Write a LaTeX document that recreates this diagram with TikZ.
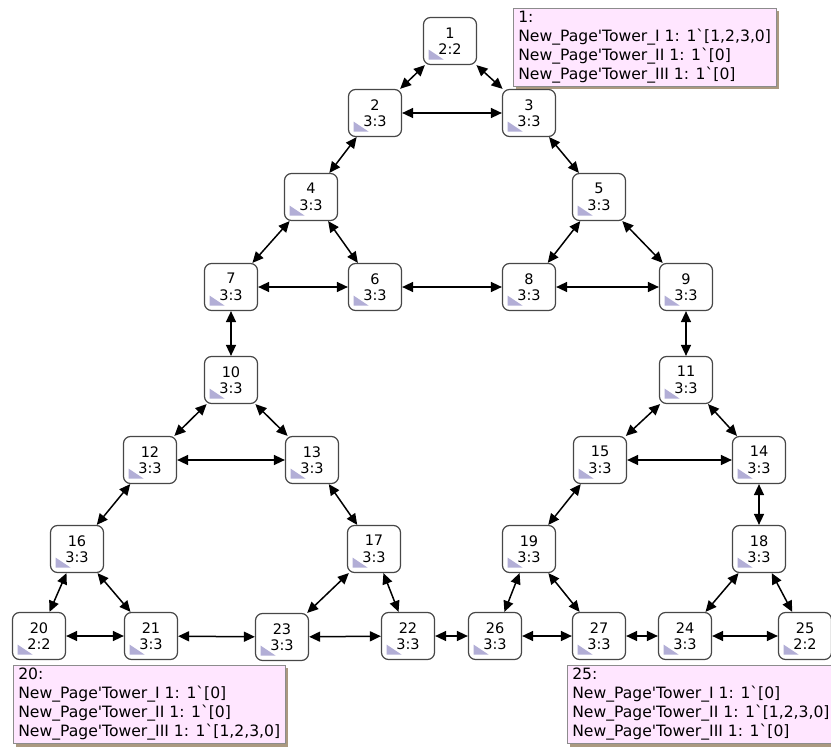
\documentclass[tikz,border=0pt]{standalone}
\usepackage{fontspec}
\setmainfont{DejaVu Sans}
\usetikzlibrary{arrows.meta,shadows}

\definecolor{corner}{RGB}{178,174,214}
\definecolor{infofill}{RGB}{255,230,255}
\definecolor{infoshade}{RGB}{150,128,96}

% straight quote and grave accent, as typed in the markings
\newcommand{\sq}{\textquotesingle}
\newcommand{\gr}{\textasciigrave}

\begin{document}
\begin{tikzpicture}[
    x=1pt, y=-1pt,
    state/.style={rectangle, draw=black!72, line width=1.2pt, rounded corners=7pt,
        fill=white, minimum width=53pt, minimum height=47pt, inner sep=0pt,
        align=center, font=\fontsize{14.5}{16.5}\selectfont,
        path picture={\fill[corner, sharp corners] ([xshift=5pt,yshift=15pt]path picture bounding box.south west)
            -- ([xshift=5pt,yshift=5pt]path picture bounding box.south west)
            -- ([xshift=20pt,yshift=5pt]path picture bounding box.south west) -- cycle;}},
    infobox/.style={rectangle, draw=black!45, line width=0.6pt, fill=infofill, anchor=north west,
        align=left, inner xsep=5pt, inner ysep=3pt, font=\fontsize{15.6}{19}\selectfont,
        drop shadow={shadow xshift=3pt, shadow yshift=-3pt, fill=infoshade, opacity=0.8}},
    arrow/.style={{Triangle[length=11pt,width=10pt]}-{Triangle[length=11pt,width=10pt]}, line width=1.5pt, black}
]
\useasboundingbox (0,0) rectangle (831,747);

%% ---- Top triangle ----
\node[state] (n1) at (450,41) {1\\2:2};
\node[state] (n2) at (375,113) {2\\3:3};
\node[state] (n3) at (529,113) {3\\3:3};
\node[state] (n4) at (311,197) {4\\3:3};
\node[state] (n5) at (599,197) {5\\3:3};
\node[state] (n7) at (231,287) {7\\3:3};
\node[state] (n6) at (375,287) {6\\3:3};
\node[state] (n8) at (529,287) {8\\3:3};
\node[state] (n9) at (686,287) {9\\3:3};

%% ---- Left triangle ----
\node[state] (n10) at (231,380) {10\\3:3};
\node[state] (n12) at (150,460) {12\\3:3};
\node[state] (n13) at (312,460) {13\\3:3};
\node[state] (n16) at (77,549) {16\\3:3};
\node[state] (n17) at (374,549) {17\\3:3};
\node[state] (n20) at (39,636) {20\\2:2};
\node[state] (n21) at (151,636) {21\\3:3};
\node[state] (n23) at (282,637) {23\\3:3};
\node[state] (n22) at (408,636) {22\\3:3};

%% ---- Right triangle ----
\node[state] (n11) at (686,380) {11\\3:3};
\node[state] (n15) at (600,460) {15\\3:3};
\node[state] (n14) at (759,460) {14\\3:3};
\node[state] (n19) at (529,549) {19\\3:3};
\node[state] (n18) at (759,549) {18\\3:3};
\node[state] (n26) at (495,636) {26\\3:3};
\node[state] (n27) at (599,636) {27\\3:3};
\node[state] (n24) at (685,636) {24\\3:3};
\node[state] (n25) at (805,636) {25\\2:2};

%% ---- Marking boxes ----
\node[infobox] (m1) at (513,8) {1:\\New\_Page\sq Tower\_I 1: 1\gr[1,2,3,0]\\New\_Page\sq Tower\_II 1: 1\gr[0]\\New\_Page\sq Tower\_III 1: 1\gr[0]};
\node[infobox] (m20) at (13,665) {20:\\New\_Page\sq Tower\_I 1: 1\gr[0]\\New\_Page\sq Tower\_II 1: 1\gr[0]\\New\_Page\sq Tower\_III 1: 1\gr[1,2,3,0]};
\node[infobox] (m25) at (567,665) {25:\\New\_Page\sq Tower\_I 1: 1\gr[0]\\New\_Page\sq Tower\_II 1: 1\gr[1,2,3,0]\\New\_Page\sq Tower\_III 1: 1\gr[0]};

%% ---- Arcs: top part ----
\draw[arrow] (n1) -- (n2);
\draw[arrow] (n1) -- (n3);
\draw[arrow] (n2) -- (n3);
\draw[arrow] (n2) -- (n4);
\draw[arrow] (n3) -- (n5);
\draw[arrow] (n4) -- (n7);
\draw[arrow] (n4) -- (n6);
\draw[arrow] (n5) -- (n8);
\draw[arrow] (n5) -- (n9);
\draw[arrow] (n7) -- (n6);
\draw[arrow] (n6) -- (n8);
\draw[arrow] (n8) -- (n9);
\draw[arrow] (n7) -- (n10);
\draw[arrow] (n9) -- (n11);

%% ---- Arcs: left part ----
\draw[arrow] (n10) -- (n12);
\draw[arrow] (n10) -- (n13);
\draw[arrow] (n12) -- (n13);
\draw[arrow] (n12) -- (n16);
\draw[arrow] (n13) -- (n17);
\draw[arrow] (n16) -- (n20);
\draw[arrow] (n16) -- (n21);
\draw[arrow] (n17) -- (n23);
\draw[arrow] (n17) -- (n22);
\draw[arrow] (n20) -- (n21);
\draw[arrow] (n21) -- (n23);
\draw[arrow] (n23) -- (n22);
\draw[arrow] (n22) -- (n26);

%% ---- Arcs: right part ----
\draw[arrow] (n11) -- (n15);
\draw[arrow] (n11) -- (n14);
\draw[arrow] (n15) -- (n14);
\draw[arrow] (n15) -- (n19);
\draw[arrow] (n14) -- (n18);
\draw[arrow] (n19) -- (n26);
\draw[arrow] (n19) -- (n27);
\draw[arrow] (n18) -- (n24);
\draw[arrow] (n18) -- (n25);
\draw[arrow] (n26) -- (n27);
\draw[arrow] (n27) -- (n24);
\draw[arrow] (n24) -- (n25);

\end{tikzpicture}
\end{document}
